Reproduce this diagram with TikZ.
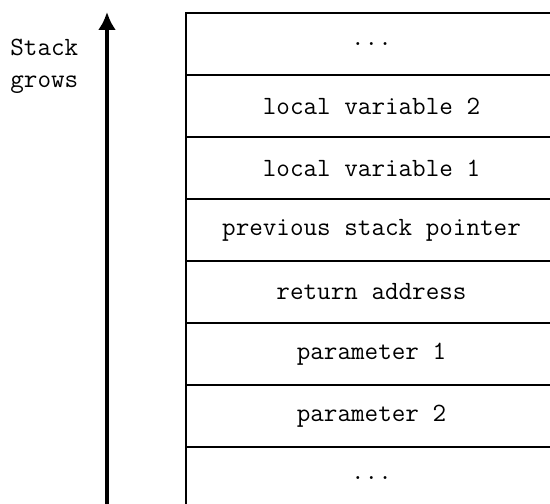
\documentclass[tikz,border=0pt]{standalone}
\usepackage{fontspec}
\usepackage{tikz}
\usetikzlibrary{positioning,arrows.meta}

\tikzset{
	frame/.style={draw,line width=1pt,minimum width=7.42cm,minimum height=1.24cm,inner sep=0pt,outer sep=0pt,font=\ttfamily\fontsize{15}{18}\selectfont},
}

\begin{document}
\begin{tikzpicture}
			\useasboundingbox (0,0) rectangle (11,10.08);
			\clip (0,0) rectangle (11,10.08);
			\node[frame,anchor=north west] (dotstop) at (3.72,9.82) {...};
			\node[frame,below=0pt of dotstop] (local2) {local variable 2};
			\node[frame,below=0pt of local2] (local1) {local variable 1};
			\node[frame,below=0pt of local1] (prevsp) {previous stack pointer};
			\node[frame,below=0pt of prevsp] (retaddr) {return address};
			\node[frame,below=0pt of retaddr] (param1) {parameter 1};
			\node[frame,below=0pt of param1] (param2) {parameter 2};
			\node[frame,below=0pt of param2] (dotsbottom) {...};
			\coordinate (base) at (2.14,0);
			\coordinate (tip) at (2.14,9.84);
			\draw[line width=2pt,-{Latex[length=3.6mm,width=3.6mm]}] (base) -- (tip);
			\node[anchor=west,align=left,font=\ttfamily\fontsize{15}{18.5}\selectfont,inner sep=0pt] (grows) at (0.2,8.75) {Stack\\grows};
		\end{tikzpicture}
\end{document}
